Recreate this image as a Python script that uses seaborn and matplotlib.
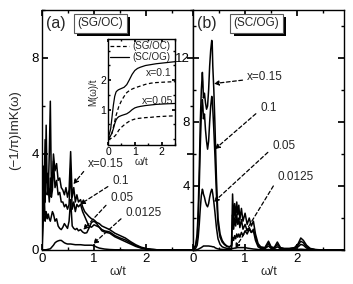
import matplotlib
matplotlib.use("Agg")
import matplotlib.pyplot as plt
import seaborn as sns
import pandas as pd
from matplotlib.ticker import MultipleLocator
from matplotlib.patches import Rectangle
from matplotlib.lines import Line2D

# ---------------- data ----------------
omega_a = [0.0, 0.02, 0.04, 0.06, 0.08, 0.10, 0.12, 0.14, 0.16, 0.18, 0.20, 0.22, 0.25, 0.28,
           0.31, 0.34, 0.37, 0.40, 0.43, 0.46, 0.49, 0.52, 0.55, 0.58, 0.61, 0.64, 0.67, 0.70,
           0.74, 0.78, 0.82, 0.86, 0.90, 0.95, 1.00, 1.05, 1.10, 1.15, 1.20, 1.30, 1.40, 1.50,
           1.60, 1.70, 1.80, 1.90, 2.00, 2.10, 2.20, 2.40, 2.90]
a_x015 = [0, 3.5, 2.5, 4.6, 2.8, 3.2, 2.4, 4.0, 6.2, 2.6, 2.9, 4.0, 3.3, 3.6,
          2.9, 3.0, 2.6, 2.5, 2.3, 2.6, 2.2, 2.5, 4.1, 2.2, 2.6, 2.0, 2.3, 2.0,
          2.1, 1.8, 1.6, 1.5, 1.4, 1.3, 1.25, 1.15, 1.1, 1.0, 0.95, 0.85, 0.7, 0.6,
          0.5, 0.35, 0.22, 0.12, 0.06, 0.03, 0.01, 0, 0]
a_x01 = [0, 2.4, 3.4, 2.0, 5.2, 2.3, 2.6, 2.0, 3.0, 2.2, 2.5, 3.7, 2.6, 2.9,
         2.3, 2.4, 2.0, 2.0, 1.8, 1.9, 1.7, 1.9, 3.4, 1.7, 2.0, 1.6, 1.9, 1.8,
         1.9, 1.6, 1.4, 1.2, 1.0, 0.95, 1.05, 1.0, 0.95, 0.85, 0.8, 0.75, 0.6, 0.5,
         0.42, 0.3, 0.18, 0.1, 0.05, 0.02, 0.01, 0, 0]
a_x005 = [0, 1.0, 2.5, 1.2, 1.6, 1.3, 1.5, 1.3, 1.2, 1.4, 1.6, 1.5, 1.2, 1.3,
          1.0, 0.9, 0.85, 0.95, 1.1, 1.0, 0.9, 1.2, 2.1, 1.0, 0.9, 0.85, 0.9, 0.8,
          0.85, 0.75, 0.7, 0.72, 0.9, 1.15, 1.2, 1.1, 0.95, 0.8, 0.75, 0.7, 0.55, 0.45,
          0.35, 0.25, 0.15, 0.08, 0.04, 0.02, 0.01, 0, 0]
a_x00125 = [0, 0, 0, 0, 0.01, 0.02, 0.03, 0.04, 0.05, 0.1, 0.15, 0.2, 0.3, 0.35,
            0.38, 0.4, 0.4, 0.35, 0.3, 0.27, 0.25, 0.25, 0.25, 0.24, 0.23, 0.22, 0.22, 0.22,
            0.22, 0.21, 0.2, 0.2, 0.2, 0.2, 0.18, 0.12, 0.08, 0.06, 0.04, 0.02, 0.01, 0.01,
            0, 0, 0, 0, 0, 0, 0, 0, 0]

omega_b = [0.0, 0.05, 0.08, 0.10, 0.12, 0.14, 0.16, 0.18, 0.19, 0.20, 0.22, 0.24, 0.26, 0.28,
           0.30, 0.32, 0.34, 0.36, 0.37, 0.38, 0.40, 0.42, 0.45, 0.48, 0.52, 0.56, 0.60, 0.65,
           0.70, 0.74, 0.76, 0.78, 0.80, 0.82, 0.84, 0.86, 0.88, 0.90, 0.93, 0.96, 1.00, 1.04,
           1.08, 1.12, 1.16, 1.20, 1.25, 1.30, 1.38, 1.45, 1.50, 1.56, 1.62, 1.68, 1.75, 1.85,
           1.95, 2.02, 2.07, 2.12, 2.18, 2.25, 2.35, 2.50, 2.90]
b_x015 = [0, 0.3, 1.0, 2.5, 5.0, 8.0, 10.0, 11.1, 10.5, 9.5, 9.8, 9.2, 8.8, 9.0,
          10.0, 11.5, 12.5, 13.1, 12.8, 11.5, 10.0, 8.0, 4.5, 2.0, 1.0, 0.6, 0.4, 0.25,
          0.2, 0.3, 3.5, 1.8, 2.9, 2.0, 3.0, 2.2, 2.8, 1.9, 2.6, 1.8, 2.3, 1.6,
          2.0, 1.5, 1.8, 1.0, 0.4, 0.2, 0.15, 0.55, 0.2, 0.15, 0.5, 0.15, 0.1, 0.1,
          0.15, 0.4, 0.75, 0.6, 0.3, 0.1, 0.03, 0, 0]
b_x01 = [0, 0.25, 0.8, 2.0, 4.0, 6.5, 8.5, 9.4, 9.0, 8.2, 8.5, 7.5, 6.8, 6.3,
         6.8, 8.0, 9.0, 9.6, 9.4, 8.8, 7.5, 6.0, 3.5, 1.6, 0.8, 0.5, 0.35, 0.22,
         0.18, 0.25, 2.2, 1.3, 2.0, 1.5, 2.2, 1.6, 2.0, 1.4, 1.9, 1.3, 1.6, 1.2,
         1.4, 1.1, 1.3, 0.8, 0.3, 0.15, 0.12, 0.4, 0.15, 0.12, 0.35, 0.12, 0.08, 0.08,
         0.12, 0.3, 0.55, 0.45, 0.2, 0.08, 0.02, 0, 0]
b_x005 = [0, 0.1, 0.3, 0.8, 1.6, 2.6, 3.4, 3.8, 3.7, 3.5, 3.3, 3.0, 2.8, 2.7,
          2.9, 3.3, 3.6, 3.8, 3.7, 3.5, 3.0, 2.4, 1.4, 0.7, 0.35, 0.2, 0.15, 0.1,
          0.08, 0.1, 0.8, 0.6, 0.9, 0.7, 1.0, 0.8, 1.0, 0.8, 1.1, 0.9, 1.2, 1.0,
          1.3, 1.1, 1.2, 0.6, 0.2, 0.1, 0.08, 0.25, 0.1, 0.08, 0.2, 0.08, 0.05, 0.05,
          0.08, 0.2, 0.35, 0.3, 0.12, 0.04, 0.01, 0, 0]
b_x00125 = [0, 0, 0.02, 0.05, 0.08, 0.12, 0.15, 0.2, 0.22, 0.25, 0.25, 0.25, 0.25, 0.25,
            0.25, 0.24, 0.23, 0.22, 0.21, 0.2, 0.2, 0.15, 0.1, 0.07, 0.05, 0.04, 0.03, 0.03,
            0.03, 0.05, 0.1, 0.1, 0.12, 0.12, 0.14, 0.15, 0.15, 0.15, 0.15, 0.15, 0.15, 0.12,
            0.1, 0.08, 0.06, 0.05, 0.03, 0.02, 0.02, 0.03, 0.02, 0.02, 0.02, 0.02, 0.01, 0.01,
            0.02, 0.04, 0.05, 0.04, 0.02, 0.01, 0, 0, 0]

omega_in = [0, 0.1, 0.15, 0.2, 0.25, 0.3, 0.35, 0.4, 0.5, 0.6, 0.7, 0.8, 0.9, 1.0, 1.1,
            1.2, 1.4, 1.6, 1.8, 2.0, 2.2, 2.5]
M_sc_x01 = [0, 0.35, 0.75, 1.15, 1.45, 1.6, 1.65, 1.68, 1.72, 1.76, 1.85, 2.02, 2.2, 2.33, 2.4,
            2.44, 2.5, 2.53, 2.56, 2.58, 2.6, 2.63]
M_sg_x01 = [0, 0.1, 0.2, 0.4, 0.6, 0.8, 0.95, 1.1, 1.3, 1.45, 1.58, 1.65, 1.7, 1.74, 1.77,
            1.8, 1.86, 1.9, 1.92, 1.93, 1.94, 1.95]
M_sc_x005 = [0, 0.12, 0.22, 0.35, 0.52, 0.65, 0.72, 0.76, 0.8, 0.83, 0.86, 0.92, 1.0, 1.06, 1.09,
             1.11, 1.14, 1.16, 1.18, 1.19, 1.2, 1.21]
M_sg_x005 = [0, 0.02, 0.04, 0.06, 0.1, 0.15, 0.22, 0.3, 0.4, 0.48, 0.55, 0.61, 0.65, 0.68, 0.7,
             0.71, 0.73, 0.74, 0.76, 0.77, 0.78, 0.79]

x_values = ["0.15", "0.1", "0.05", "0.0125"]

# ---------------- style ----------------
sns.set_theme(style="ticks")
plt.rcParams["font.family"] = ["Liberation Sans", "DejaVu Sans"]
plt.rcParams.update({
    "xtick.direction": "in", "ytick.direction": "in",
    "xtick.top": True, "ytick.right": True,
    "xtick.major.size": 4, "ytick.major.size": 4,
    "xtick.minor.size": 2.5, "ytick.minor.size": 2.5,
    "axes.linewidth": 1.0, "axes.edgecolor": "black",
    "xtick.color": "black", "ytick.color": "black",
    "xtick.labelsize": 9.5, "ytick.labelsize": 9.5,
})

fig = plt.figure(figsize=(3.53, 2.84), dpi=100)
W, H = 353, 284
axa = fig.add_axes([42 / W, 1 - 250 / H, 151 / W, 240 / H])
axb = fig.add_axes([193 / W, 1 - 250 / H, 151 / W, 240 / H])

def long_df(omega, series):
    rows = []
    for lab, vals in zip(x_values, series):
        for o, v in zip(omega, vals):
            rows.append({"omega": o, "val": v, "x": lab})
    return pd.DataFrame(rows)

dfa = long_df(omega_a, [a_x015, a_x01, a_x005, a_x00125])
dfb = long_df(omega_b, [b_x015, b_x01, b_x005, b_x00125])

for ax, df in ((axa, dfa), (axb, dfb)):
    sns.lineplot(data=df, x="omega", y="val", units="x", estimator=None, sort=False,
                 color="black", lw=1.1, ax=ax, legend=False)
    ax.set_xlim(0, 2.9)
    ax.xaxis.set_major_locator(MultipleLocator(1))
    ax.xaxis.set_minor_locator(MultipleLocator(0.5))
    ax.set_xlabel("ω/t", fontsize=9, labelpad=1)
    ax.set_ylabel("")
    ax.tick_params(axis="both", which="both", pad=2)

axa.set_ylim(0, 10)
axa.yaxis.set_major_locator(MultipleLocator(4))
axa.yaxis.set_minor_locator(MultipleLocator(2))
axa.set_ylabel("(−1/π)ImK(ω)", fontsize=9.5, labelpad=8)

axb.set_ylim(0, 15)
axb.yaxis.set_minor_locator(MultipleLocator(2))
axb.set_yticks([4, 8, 12])
axb.set_yticklabels(["4", "8", "12"])

# panel labels with shadowed boxes
boxes = []
def shadow_box(ax, x, y, text, fs=8.5):
    t = ax.text(x, y, text, transform=ax.transAxes, ha="center", va="center", fontsize=fs,
                bbox=dict(boxstyle="square,pad=0.3", fc="white", ec="0.35", lw=0.8), zorder=6)
    boxes.append((ax, t))

axa.text(0.09, 0.945, "(a)", transform=axa.transAxes, ha="center", va="center", fontsize=11.5)
shadow_box(axa, 0.385, 0.945, "(SG/OC)")
axb.text(0.09, 0.945, "(b)", transform=axb.transAxes, ha="center", va="center", fontsize=11.5)
shadow_box(axb, 0.42, 0.945, "(SC/OG)")

arrow = dict(arrowstyle="-|>", ls=(0, (3, 2)), lw=0.9, color="black", mutation_scale=7,
             shrinkA=1, shrinkB=0, relpos=(0, 0.3))

ann_a = [("x=0.15", (0.88, 3.58), (0.60, 2.74)),
         ("0.1", (1.35, 2.86), (0.73, 1.90)),
         ("0.05", (1.31, 2.15), (0.79, 0.84)),
         ("0.0125", (1.60, 1.56), (0.98, 0.25))]
for txt, tpos, target in ann_a:
    axa.annotate(txt, xy=target, xytext=tpos, ha="left", va="center", fontsize=8.5,
                 arrowprops=arrow, zorder=4)

ann_b = [("x=0.15", (1.04, 10.8), (0.40, 10.4)),
         ("0.1", (1.29, 8.9), (0.42, 6.3)),
         ("0.05", (1.52, 6.5), (0.40, 3.0)),
         ("0.0125", (1.62, 4.56), (0.81, 0.1))]
for txt, tpos, target in ann_b:
    axb.annotate(txt, xy=target, xytext=tpos, ha="left", va="center", fontsize=8.5,
                 arrowprops=arrow, zorder=4)

# ---------------- inset ----------------
ins = fig.add_axes([108 / W, 1 - 145 / H, 67 / W, 106 / H])
sns.lineplot(x=omega_in, y=M_sg_x01, ax=ins, color="black", lw=0.9, linestyle=(0, (3, 2)))
sns.lineplot(x=omega_in, y=M_sc_x01, ax=ins, color="black", lw=0.9)
sns.lineplot(x=omega_in, y=M_sg_x005, ax=ins, color="black", lw=0.9, linestyle=(0, (3, 2)))
sns.lineplot(x=omega_in, y=M_sc_x005, ax=ins, color="black", lw=0.9)
ins.set_xlim(0, 2.5)
ins.set_ylim(-0.2, 3.4)
ins.xaxis.set_major_locator(MultipleLocator(1))
ins.xaxis.set_minor_locator(MultipleLocator(0.5))
ins.set_yticks([1, 2])
ins.yaxis.set_minor_locator(MultipleLocator(0.5))
ins.tick_params(axis="both", which="both", labelsize=7.5, pad=1.5, length=2.5)
ins.tick_params(which="minor", length=1.5)
ins.set_xlabel("ω/t", fontsize=7.5, labelpad=0)
ins.set_ylabel("M(ω)/t", fontsize=7, labelpad=1)
ins.text(1.40, 2.24, "x=0.1", fontsize=7.5, ha="left", va="center")
ins.text(1.25, 1.31, "x=0.05", fontsize=7.5, ha="left", va="center")
handles = [Line2D([], [], color="black", lw=0.9, ls=(0, (3, 2))),
           Line2D([], [], color="black", lw=0.9)]
ins.legend(handles, ["(SG/OC)", "(SC/OG)"], loc="upper left", fontsize=7, frameon=False,
           handlelength=2.0, handletextpad=0.3, borderaxespad=0.1, borderpad=0.1,
           labelspacing=0.15)

# drop shadows for the boxed labels (plain rectangles behind the boxes)
fig.canvas.draw()
renderer = fig.canvas.get_renderer()
for ax, t in boxes:
    bb = t.get_bbox_patch().get_window_extent(renderer)
    inv = ax.transAxes.inverted()
    (x0, y0) = inv.transform((bb.x0 + 3.5, bb.y0 - 3.5))
    (x1, y1) = inv.transform((bb.x1 + 3.5, bb.y1 - 3.5))
    ax.add_patch(Rectangle((x0, y0), x1 - x0, y1 - y0, transform=ax.transAxes,
                           fc="black", ec="black", lw=0, zorder=5, clip_on=False))

fig.savefig("out.png", dpi=100)
